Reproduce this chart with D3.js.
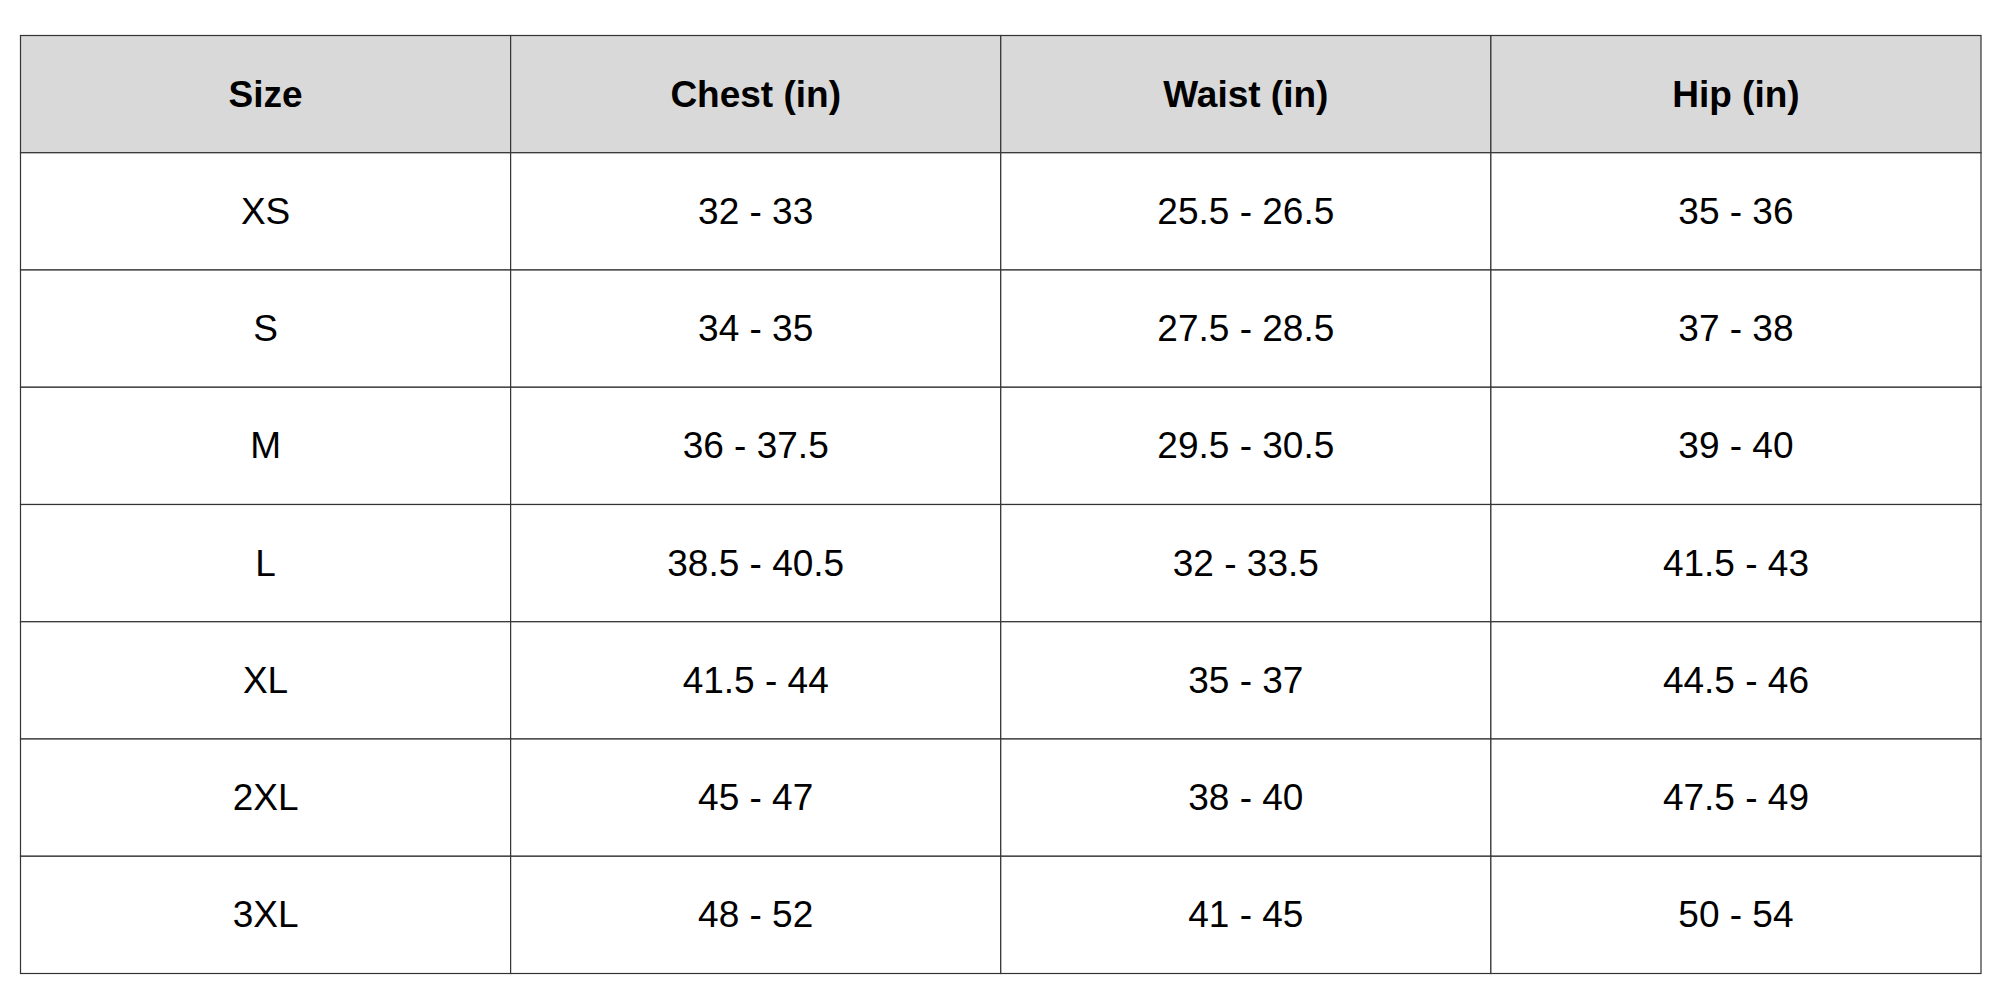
<!DOCTYPE html>
<html>
<head>
<meta charset="utf-8">
<script src="https://cdn.jsdelivr.net/npm/d3@7"></script>
<style>
  body { margin: 0; background: #fff; }
</style>
</head>
<body>
<div id="chart"></div>
<script>
// table content
const headers = ["Size", "Chest (in)", "Waist (in)", "Hip (in)"];
const sizes = ["XS", "S", "M", "L", "XL", "2XL", "3XL"];
const chest = ["32 - 33", "34 - 35", "36 - 37.5", "38.5 - 40.5", "41.5 - 44", "45 - 47", "48 - 52"];
const waist = ["25.5 - 26.5", "27.5 - 28.5", "29.5 - 30.5", "32 - 33.5", "35 - 37", "38 - 40", "41 - 45"];
const hip = ["35 - 36", "37 - 38", "39 - 40", "41.5 - 43", "44.5 - 46", "47.5 - 49", "50 - 54"];

const rows = [headers].concat(sizes.map((s, i) => [s, chest[i], waist[i], hip[i]]));

const width = 2000, height = 1000;
const margin = { top: 35.5, right: 19, bottom: 26.5, left: 20.5 };

const svg = d3.select("#chart")
    .append("svg")
    .attr("width", width)
    .attr("height", height);

const xScale = d3.scaleBand()
    .domain(d3.range(headers.length))
    .range([margin.left, width - margin.right]);

const yScale = d3.scaleBand()
    .domain(d3.range(rows.length))
    .range([margin.top, height - margin.bottom]);

const cells = [];
rows.forEach((r, ri) => r.forEach((v, ci) => cells.push({ ri, ci, v })));

// cell backgrounds + borders
svg.selectAll(".cell")
    .data(cells)
    .enter().append("rect")
    .attr("class", "cell")
    .attr("x", d => xScale(d.ci))
    .attr("y", d => yScale(d.ri))
    .attr("width", xScale.bandwidth())
    .attr("height", yScale.bandwidth())
    .attr("fill", d => d.ri === 0 ? "#d9d9d9" : "#ffffff")
    .attr("stroke", "#333")
    .attr("stroke-width", 1.2);

svg.selectAll(".label")
    .data(cells)
    .enter().append("text")
    .attr("class", "label")
    .attr("x", d => xScale(d.ci) + xScale.bandwidth() / 2)
    .attr("y", d => yScale(d.ri) + yScale.bandwidth() / 2)
    .attr("text-anchor", "middle")
    .attr("dominant-baseline", "central")
    .attr("font-family", "Liberation Sans, Arial, sans-serif")
    .attr("font-size", 37)
    .attr("font-weight", d => d.ri === 0 ? "bold" : "normal")
    .attr("fill", "#000")
    .text(d => d.v);
</script>
</body>
</html>
